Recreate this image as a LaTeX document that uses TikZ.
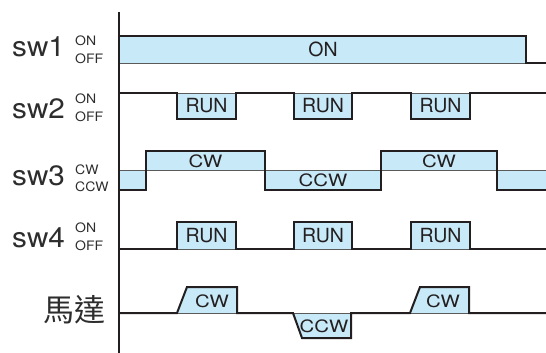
\documentclass[tikz,border=0pt]{standalone}
\usepackage{fontspec}
\setmainfont{TeX Gyre Heros}
\newfontfamily\cjk{Noto Sans CJK TC}
\definecolor{sigfill}{RGB}{200,233,248}
\definecolor{sigline}{RGB}{35,31,32}
\definecolor{baseg}{RGB}{90,90,90}
\definecolor{txt}{RGB}{45,45,45}
\begin{document}
\begin{tikzpicture}[x=1pt,y=-1pt,
  sig/.style={draw=sigline,line width=2pt,line join=miter},
  thin/.style={draw=baseg,line width=0.9pt},
  big/.style={font=\fontsize{28}{28}\selectfont,text=txt,inner sep=0pt,anchor=base west},
  small/.style={font=\fontsize{13}{13}\selectfont,text=txt,inner sep=0pt,anchor=base west},
  inlab/.style={font=\fontsize{19.5}{19.5}\selectfont,text=sigline,inner sep=0pt},
  cwlab/.style={font=\fontsize{17}{17}\selectfont,text=sigline,inner sep=0pt}]
\useasboundingbox (0,0) rectangle (546,353);
% fills
\fill[sigfill] (119,36) rectangle (526,63);
\foreach \a/\b in {177/236,294/352,411/470}{
  \fill[sigfill] (\a,93) rectangle (\b,119);
  \fill[sigfill] (\a,222) rectangle (\b,249);
}
\fill[sigfill] (119,170) rectangle (146,190);
\fill[sigfill] (146,151) rectangle (265,170);
\fill[sigfill] (265,170) rectangle (381,190);
\fill[sigfill] (381,151) rectangle (497,170);
\fill[sigfill] (497,170) rectangle (546,190);
\fill[sigfill] (177,313) -- (187,287) -- (237,287) -- (237,313) -- cycle;
\fill[sigfill] (293,313) -- (302,338) -- (351,338) -- (351,313) -- cycle;
\fill[sigfill] (410,313) -- (420,287) -- (469,287) -- (469,313) -- cycle;
% thin base lines
\draw[thin] (119,63) -- (546,63);
\draw[thin] (119,93) -- (546,93);
\draw[thin] (119,170) -- (546,170);
\draw[thin] (119,249) -- (546,249);
\draw[thin] (119,313) -- (546,313);
% signals
\draw[sig] (119,36) -- (526,36) -- (526,63) -- (546,63);
\draw[sig] (119,93) -- (177,93) -- (177,119) -- (236,119) -- (236,93) -- (294,93) -- (294,119) -- (352,119) -- (352,93) -- (411,93) -- (411,119) -- (470,119) -- (470,93) -- (546,93);
\draw[sig] (119,190) -- (146,190) -- (146,151) -- (265,151) -- (265,190) -- (381,190) -- (381,151) -- (497,151) -- (497,190) -- (546,190);
\draw[sig] (119,249) -- (177,249) -- (177,222) -- (236,222) -- (236,249) -- (294,249) -- (294,222) -- (352,222) -- (352,249) -- (411,249) -- (411,222) -- (470,222) -- (470,249) -- (546,249);
\draw[sig] (119,313) -- (177,313) -- (187,287) -- (237,287) -- (237,313) -- (293,313) -- (302,338) -- (351,338) -- (351,313) -- (410,313) -- (420,287) -- (469,287) -- (469,313) -- (546,313);
% axis
\draw[sigline,line width=1.4pt] (119,12) -- (119,353);
% left labels
\node[big] (l1) at (12,57) {\scalebox{1.06}[1]{sw1}};
\node[small] (l1a) at (75,46) {\scalebox{1.08}[1]{ON}};
\node[small] (l1b) at (75,63.5) {\scalebox{1.08}[1]{OFF}};
\node[big] (l2) at (12,118) {\scalebox{1.06}[1]{sw2}};
\node[small] (l2a) at (75,103.5) {\scalebox{1.08}[1]{ON}};
\node[small] (l2b) at (75,121) {\scalebox{1.08}[1]{OFF}};
\node[big] (l3) at (12,185) {\scalebox{1.06}[1]{sw3}};
\node[small] (l3a) at (75,174) {\scalebox{1.08}[1]{CW}};
\node[small] (l3b) at (75,191.5) {\scalebox{1.08}[1]{CCW}};
\node[big] (l4) at (12,247) {\scalebox{1.06}[1]{sw4}};
\node[small] (l4a) at (75,232.5) {\scalebox{1.08}[1]{ON}};
\node[small] (l4b) at (75,250) {\scalebox{1.08}[1]{OFF}};
\node[font=\cjk\fontsize{31}{31}\selectfont,text=txt,inner sep=0pt] (l5) at (74,310) {馬達};
% inner labels
\node[inlab] (t1) at (323,49) {ON};
\node[inlab] (r1) at (206.5,105.5) {RUN};
\node[inlab] (r2) at (323,105.5) {RUN};
\node[inlab] (r3) at (440.5,105.5) {RUN};
\node[inlab] (r4) at (206.5,236) {RUN};
\node[inlab] (r5) at (323,236) {RUN};
\node[inlab] (r6) at (440.5,236) {RUN};
\node[cwlab] (c1) at (205.5,161) {\scalebox{1.2}[1]{CW}};
\node[cwlab] (c2) at (323,180) {\scalebox{1.2}[1]{CCW}};
\node[cwlab] (c3) at (439,161) {\scalebox{1.2}[1]{CW}};
\node[cwlab] (m1) at (212,301.5) {\scalebox{1.2}[1]{CW}};
\node[cwlab] (m2) at (324,326) {\scalebox{1.2}[1]{CCW}};
\node[cwlab] (m3) at (443,301.5) {\scalebox{1.2}[1]{CW}};
\end{tikzpicture}
\end{document}
